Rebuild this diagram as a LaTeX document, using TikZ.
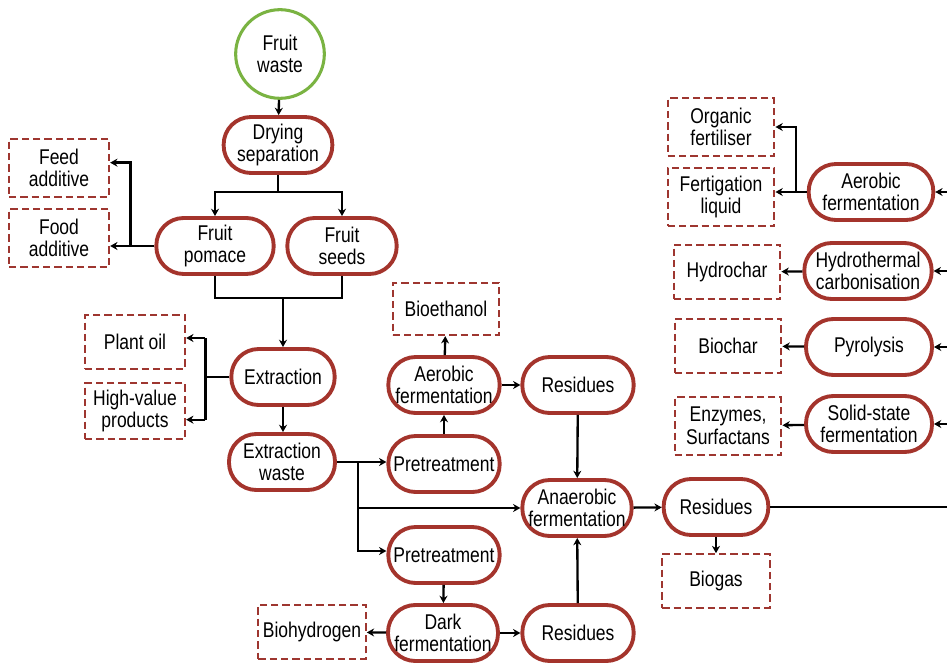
\documentclass[tikz,border=0pt]{standalone}
\usepackage{fontspec}
\setmainfont{Liberation Sans}[FakeStretch=0.82]
\usetikzlibrary{arrows.meta,calc}
\definecolor{procred}{RGB}{164,52,44}
\definecolor{prodred}{RGB}{158,54,48}
\definecolor{srcgreen}{RGB}{122,179,66}
\begin{document}
\begin{tikzpicture}[x=0.75pt,y=-0.75pt,
  every node/.style={font=\fontsize{16pt}{17pt}\selectfont, align=center, inner sep=0pt},
  proc/.style={draw=procred, line width=2.9pt, rounded corners=20.5pt, minimum height=42pt, fill=white},
  prod/.style={draw=prodred, line width=1.7pt, dash pattern=on 5.5pt off 3pt, fill=white},
  src/.style={circle, draw=srcgreen, line width=2.3pt, minimum size=66.5pt},
  arr/.style={line width=1.75pt, -{Stealth[length=5.5pt,width=6pt]}},
  ln/.style={line width=1.75pt}]
\useasboundingbox (0,0) rectangle (947,663);
\clip (0,0) rectangle (947,663);

% source and first steps
\node[src] (waste) at (280,54) {Fruit\\waste};
\node[proc, minimum width=81.5pt] (dry) at (278,145) {Drying\\separation};
\node[proc, minimum width=88pt] (pomace) at (215,246) {Fruit\\pomace};
\node[proc, minimum width=82pt] (seeds) at (342,246) {Fruit\\seeds};
\node[prod, minimum width=75pt, minimum height=43.5pt] (feed) at (59,168) {Feed\\additive};
\node[prod, minimum width=75pt, minimum height=43.5pt] (food) at (59,238) {Food\\additive};

% extraction
\node[proc, minimum width=77.5pt] (extr) at (283,377) {Extraction};
\node[proc, minimum width=79.5pt] (exwaste) at (282,462) {Extraction\\waste};
\node[prod, minimum width=75pt, minimum height=40pt] (oil) at (135,342) {Plant oil};
\node[prod, minimum width=75pt, minimum height=42pt] (hvp) at (135,411) {High-value\\products};

% fermentation routes
\node[proc, minimum width=83.5pt] (pre1) at (444,464) {Pretreatment};
\node[proc, minimum width=83.5pt] (aer1) at (444,385) {Aerobic\\fermentation};
\node[prod, minimum width=80pt, minimum height=39pt] (bioeth) at (446,309) {Bioethanol};
\node[proc, minimum width=83.5pt] (res1) at (578,385) {Residues};
\node[proc, minimum width=82pt] (anaer) at (577,508) {Anaerobic\\fermentation};
\node[proc, minimum width=83.5pt] (pre2) at (444,555) {Pretreatment};
\node[proc, minimum width=82.5pt] (dark) at (443,633) {Dark\\fermentation};
\node[prod, minimum width=80.5pt, minimum height=41pt] (bioh) at (312,632) {Biohydrogen};
\node[proc, minimum width=83.5pt] (res3) at (578,633) {Residues};
\node[proc, minimum width=78.5pt] (res2) at (716,507) {Residues};
\node[prod, minimum width=80.5pt, minimum height=40pt] (biogas) at (716,581) {Biogas};

% residue treatments
\node[proc, minimum width=93.5pt] (aerR) at (871,192) {Aerobic\\fermentation};
\node[prod, minimum width=80pt, minimum height=43pt] (orgf) at (721,127) {Organic\\fertiliser};
\node[prod, minimum width=80pt, minimum height=44pt] (fertig) at (721,197) {Fertigation\\liquid};
\node[proc, minimum width=95.5pt] (htc) at (868,271) {Hydrothermal\\carbonisation};
\node[prod, minimum width=80pt, minimum height=41pt] (hchar) at (727,272) {Hydrochar};
\node[proc, minimum width=94.5pt] (pyro) at (869,347) {Pyrolysis};
\node[prod, minimum width=80pt, minimum height=41pt] (bchar) at (728,346) {Biochar};
\node[proc, minimum width=94.5pt] (ssf) at (869,424) {Solid-state\\fermentation};
\node[prod, minimum width=80pt, minimum height=43pt] (enz) at (728,426) {Enzymes,\\Surfactans};
\coordinate (rbus) at (965,0);

% connectors: source to extraction
\draw[arr] (waste) -- (dry);
\draw[ln] (dry.south) -- ++(0,17) coordinate (ds);
\draw[arr] (ds) -| (pomace.north);
\draw[arr] (ds) -| (seeds.north);
\draw[ln] (pomace.west) -- ++(-24,0) coordinate (pb);
\draw[arr] (pb) |- ([yshift=4pt]feed.east);
\draw[arr] (pomace.west) -- (pomace.west -| food.east);
\draw[ln] (pomace.south) -- ++(0,22) coordinate (jp) -| (seeds.south);
\draw[arr] (jp -| extr.north) -- (extr.north);
\draw[ln] (extr.west) -- ++(-24,0) coordinate (eb);
\draw[ln] ([yshift=3pt]eb |- oil.east) -- ([yshift=-6.5pt]eb |- hvp.east);
\draw[arr] ([yshift=3pt]eb |- oil.east) -- ([yshift=3pt]oil.east);
\draw[arr] ([yshift=-6.5pt]eb |- hvp.east) -- ([yshift=-6.5pt]hvp.east);
\draw[arr] (extr.south) -- (extr.south |- exwaste.north);

% connectors: extraction waste routes
\draw[ln] (exwaste.east) -- ++(21,0) coordinate (wb);
\draw[arr] (wb) -- (wb -| pre1.west);
\draw[arr] (wb) |- (anaer.west);
\draw[arr] (wb) |- ([yshift=3pt]pre2.west);
\draw[arr] (pre1) -- (aer1);
\draw[arr] (aer1) -- (bioeth);
\draw[arr] (aer1) -- (res1);
\draw[arr] (res1) -- (anaer);
\draw[arr] (pre2) -- (dark);
\draw[arr] (dark) -- (bioh);
\draw[arr] (dark) -- (res3);
\draw[arr] (res3) -- (anaer);
\draw[arr] (anaer) -- (res2);
\draw[arr] (res2) -- (biogas);
\draw[ln] (res2.east) -- (res2.east -| rbus);

% connectors: residue treatments
\draw[arr] (aerR.east -| rbus) -- (aerR.east);
\draw[arr] (htc.east -| rbus) -- (htc.east);
\draw[arr] (pyro.east -| rbus) -- (pyro.east);
\draw[arr] (ssf.east -| rbus) -- (ssf.east);
\draw[ln] (aerR.west) -- ++(-11,0) coordinate (ab);
\draw[arr] (ab) |- (orgf.east);
\draw[arr] (ab) -- (ab -| fertig.east);
\draw[arr] (htc) -- (hchar);
\draw[arr] (pyro) -- (bchar);
\draw[arr] (ssf) -- (enz);
\end{tikzpicture}
\end{document}
